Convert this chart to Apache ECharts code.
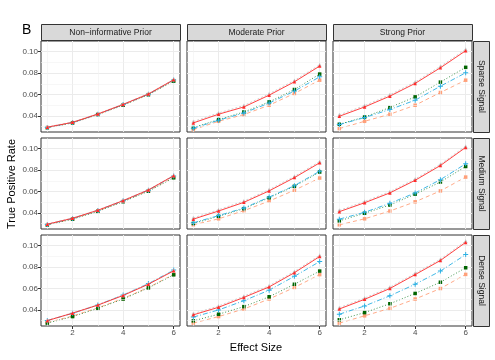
<!DOCTYPE html>
<html>
<head>
<meta charset="utf-8">
<script src="https://cdn.jsdelivr.net/npm/echarts@6/dist/echarts.min.js"></script>
<style>
  html, body { margin: 0; padding: 0; background: #fff; }
  #chart { width: 495px; height: 360px; }
</style>
</head>
<body>
<div id="chart"></div>
<script>
// facets
var priors = ['Non\u2212informative Prior', 'Moderate Prior', 'Strong Prior'];
var signals = ['Sparse Signal', 'Medium Signal', 'Dense Signal'];
var effectSize = [1, 2, 3, 4, 5, 6];
var yTicks = [0.04, 0.06, 0.08, 0.10];
var yMinor = [0.03, 0.05, 0.07, 0.09];
var xTicks = [2, 4, 6];
var xMinor = [1, 3, 5];

// true positive rate, one row per panel (sparse/medium/dense x non-inf/moderate/strong)
var redTPR = [
  [0.0295, 0.0340, 0.0418, 0.0508, 0.0605, 0.0738],
  [0.0335, 0.0416, 0.0484, 0.0594, 0.0719, 0.0866],
  [0.0397, 0.0484, 0.0585, 0.0704, 0.0850, 0.1009],
  [0.0295, 0.0350, 0.0425, 0.0515, 0.0615, 0.0748],
  [0.0342, 0.0418, 0.0499, 0.0606, 0.0730, 0.0868],
  [0.0412, 0.0495, 0.0587, 0.0705, 0.0843, 0.1012],
  [0.0300, 0.0370, 0.0445, 0.0535, 0.0640, 0.0765],
  [0.0354, 0.0425, 0.0517, 0.0615, 0.0748, 0.0899],
  [0.0409, 0.0499, 0.0600, 0.0730, 0.0862, 0.1031]
];
var greyTPR = [
  [0.0298, 0.0343, 0.0421, 0.0511, 0.0609, 0.0742],
  [0.0348, 0.0428, 0.0497, 0.0607, 0.0732, 0.0878],
  [0.0410, 0.0497, 0.0598, 0.0717, 0.0863, 0.1022],
  [0.0298, 0.0353, 0.0428, 0.0518, 0.0618, 0.0751],
  [0.0354, 0.0430, 0.0511, 0.0618, 0.0742, 0.0880],
  [0.0424, 0.0507, 0.0599, 0.0717, 0.0855, 0.1024],
  [0.0304, 0.0373, 0.0449, 0.0540, 0.0645, 0.0770],
  [0.0366, 0.0437, 0.0529, 0.0627, 0.0760, 0.0911],
  [0.0421, 0.0511, 0.0612, 0.0742, 0.0874, 0.1043]
];
var blueTPR = [
  [0.0293, 0.0338, 0.0416, 0.0506, 0.0603, 0.0736],
  [0.0285, 0.0360, 0.0428, 0.0520, 0.0632, 0.0765],
  [0.0319, 0.0385, 0.0460, 0.0547, 0.0678, 0.0803],
  [0.0293, 0.0348, 0.0423, 0.0513, 0.0613, 0.0745],
  [0.0308, 0.0375, 0.0446, 0.0548, 0.0655, 0.0790],
  [0.0342, 0.0406, 0.0490, 0.0587, 0.0711, 0.0859],
  [0.0302, 0.0368, 0.0447, 0.0540, 0.0646, 0.0772],
  [0.0333, 0.0400, 0.0486, 0.0585, 0.0714, 0.0852],
  [0.0360, 0.0437, 0.0532, 0.0640, 0.0763, 0.0917]
];
var greenTPR = [
  [0.0290, 0.0335, 0.0413, 0.0500, 0.0598, 0.0725],
  [0.0291, 0.0366, 0.0437, 0.0531, 0.0647, 0.0791],
  [0.0322, 0.0390, 0.0479, 0.0578, 0.0716, 0.0854],
  [0.0288, 0.0342, 0.0415, 0.0505, 0.0603, 0.0728],
  [0.0302, 0.0369, 0.0440, 0.0542, 0.0649, 0.0782],
  [0.0326, 0.0397, 0.0474, 0.0575, 0.0689, 0.0834],
  [0.0277, 0.0338, 0.0415, 0.0502, 0.0606, 0.0728],
  [0.0298, 0.0360, 0.0431, 0.0523, 0.0640, 0.0763],
  [0.0308, 0.0375, 0.0458, 0.0554, 0.0659, 0.0794]
];
var orangeTPR = [
  [0.0292, 0.0337, 0.0415, 0.0503, 0.0600, 0.0730],
  [0.0272, 0.0350, 0.0413, 0.0500, 0.0610, 0.0734],
  [0.0282, 0.0350, 0.0416, 0.0500, 0.0619, 0.0734],
  [0.0290, 0.0344, 0.0418, 0.0508, 0.0606, 0.0733],
  [0.0289, 0.0345, 0.0421, 0.0511, 0.0612, 0.0726],
  [0.0289, 0.0345, 0.0418, 0.0504, 0.0606, 0.0735],
  [0.0282, 0.0343, 0.0420, 0.0507, 0.0610, 0.0732],
  [0.0277, 0.0338, 0.0409, 0.0502, 0.0610, 0.0730],
  [0.0277, 0.0345, 0.0415, 0.0502, 0.0600, 0.0732]
];

var panelLeft = [41, 187, 333];
var panelTop = [41, 138, 235];
var panelW = 139, panelH = 91;
var font = 'Liberation Sans, Arial, sans-serif';
var plusPath = 'path://M4,0H6V4H10V6H6V10H4V6H0V4H4Z';

var methods = [
  { data: orangeTPR, color: '#FFA07A', mcolor: '#FFA07A', type: [4, 3], symbol: 'rect', size: 3.5 },
  { data: greenTPR, color: '#2E8B3E', mcolor: '#006400', type: [1, 2], symbol: 'rect', size: 3.5 },
  { data: blueTPR, color: '#2BB0E3', mcolor: '#2BB0E3', type: [5, 2, 1, 2], symbol: plusPath, size: 5 },
  { data: greyTPR, color: '#CCCCCC', mcolor: '#C4C4C4', type: [2, 2], symbol: 'triangle', size: 4 },
  { data: redTPR, color: '#FF2A2A', mcolor: '#FF2A2A', type: 'solid', symbol: 'triangle', size: 3.5 }
];

var grids = [], xAxes = [], yAxes = [], series = [], graphics = [];
for (var r = 0; r < 3; r++) {
  for (var c = 0; c < 3; c++) {
    var k = r * 3 + c;
    grids.push({
      left: panelLeft[c], top: panelTop[r], width: panelW, height: panelH,
      show: true, backgroundColor: '#fff', borderColor: '#333', borderWidth: 1
    });
    xAxes.push({
      type: 'value', gridIndex: k, min: 0.75, max: 6.25,
      axisLine: { show: false },
      axisTick: { show: r === 2, length: 3, lineStyle: { color: '#333' }, customValues: xTicks },
      axisLabel: { show: r === 2, customValues: xTicks, color: '#4D4D4D', fontSize: 8, margin: 3, fontFamily: font },
      splitLine: { show: true, lineStyle: { color: '#EBEBEB', width: 1 } }
    });
    yAxes.push({
      type: 'value', gridIndex: k, min: 0.025, max: 0.11,
      axisLine: { show: false },
      axisTick: { show: c === 0, length: 3, lineStyle: { color: '#333' }, customValues: yTicks },
      axisLabel: {
        show: c === 0, customValues: yTicks, color: '#4D4D4D', fontSize: 8, margin: 3, fontFamily: font,
        formatter: function (v) { return v.toFixed(2); }
      },
      splitLine: { show: true, lineStyle: { color: '#EBEBEB', width: 1 } }
    });
    // minor grid lines
    var minorLines = [];
    yMinor.forEach(function (v) { minorLines.push({ yAxis: v }); });
    xMinor.forEach(function (v) { minorLines.push({ xAxis: v }); });
    series.push({
      type: 'line', xAxisIndex: k, yAxisIndex: k, data: [], silent: true, z: 1,
      markLine: {
        silent: true, symbol: 'none', label: { show: false }, animation: false,
        lineStyle: { color: '#F2F2F2', width: 0.6, type: 'solid' },
        data: minorLines
      }
    });
    methods.forEach(function (m, mi) {
      series.push({
        type: 'line', xAxisIndex: k, yAxisIndex: k, z: 3 + mi,
        data: effectSize.map(function (x, i) { return [x, m.data[k][i]]; }),
        symbol: m.symbol, symbolSize: m.size, showSymbol: true,
        lineStyle: { color: m.color, width: 0.9, type: m.type },
        itemStyle: { color: m.mcolor },
        animation: false, silent: true
      });
    });
  }
}

// top strips
for (var c2 = 0; c2 < 3; c2++) {
  graphics.push({
    type: 'rect', shape: { x: panelLeft[c2] + 0.5, y: 24.5, width: panelW, height: 16 },
    style: { fill: '#D9D9D9', stroke: '#333', lineWidth: 1 }
  });
  graphics.push({
    type: 'text', x: panelLeft[c2] + panelW / 2, y: 33,
    style: { text: priors[c2], fill: '#1A1A1A', font: '8.5px ' + font, textAlign: 'center', textVerticalAlign: 'middle' }
  });
}
// right strips
for (var r2 = 0; r2 < 3; r2++) {
  graphics.push({
    type: 'rect', shape: { x: 473.5, y: panelTop[r2] + 0.5, width: 16, height: panelH },
    style: { fill: '#D9D9D9', stroke: '#333', lineWidth: 1 }
  });
  graphics.push({
    type: 'text', x: 481.5, y: panelTop[r2] + panelH / 2, rotation: -Math.PI / 2,
    style: { text: signals[r2], fill: '#1A1A1A', font: '8.5px ' + font, textAlign: 'center', textVerticalAlign: 'middle' }
  });
}
graphics.push({
  type: 'text', x: 22, y: 23,
  style: { text: 'B', fill: '#000', font: '14px ' + font }
});
graphics.push({
  type: 'text', x: 12, y: 184, rotation: Math.PI / 2,
  style: { text: 'True Positive Rate', fill: '#000', font: '11px ' + font, textAlign: 'center', textVerticalAlign: 'middle' }
});
graphics.push({
  type: 'text', x: 256, y: 348,
  style: { text: 'Effect Size', fill: '#000', font: '11px ' + font, textAlign: 'center', textVerticalAlign: 'middle' }
});

var chart = echarts.init(document.getElementById('chart'), null, { renderer: 'canvas' });
chart.setOption({
  backgroundColor: '#fff',
  animation: false,
  grid: grids,
  xAxis: xAxes,
  yAxis: yAxes,
  series: series,
  graphic: graphics
});
</script>
</body>
</html>
